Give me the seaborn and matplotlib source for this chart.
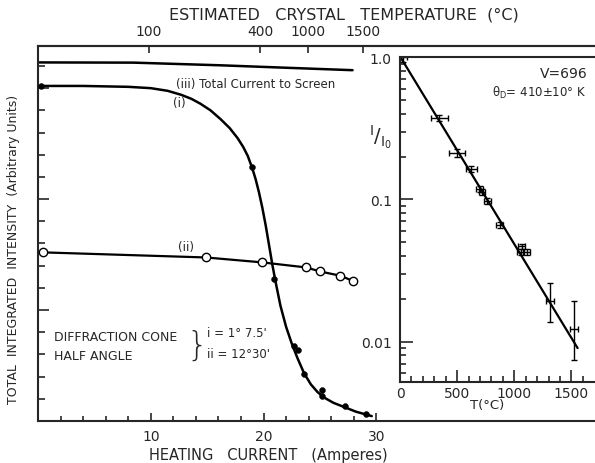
import numpy as np
import matplotlib
matplotlib.use("Agg")
import matplotlib.pyplot as plt
from matplotlib.ticker import FixedLocator, NullFormatter
import seaborn as sns

# main panel: heating current (A) vs integrated intensity (arbitrary units)
curve_i_x = [0.3, 4, 8, 10, 11.5, 12.7, 13.6, 14.4, 15.3, 16.2, 17.0, 17.7, 18.2, 18.6,
             19.0, 19.3, 19.6, 19.9, 20.2, 20.5, 20.8, 21.1, 21.5, 22.0, 22.5, 23.0,
             23.6, 24.2, 24.8, 25.4, 26.2, 27.2, 28.2, 29.6]
curve_i_y = [15.1, 15.1, 15.06, 15.0, 14.88, 14.7, 14.52, 14.3, 14.0, 13.6, 13.2, 12.75, 12.35, 11.95,
             11.4, 10.9, 10.3, 9.6, 8.8, 7.9, 7.0, 6.2, 5.2, 4.25, 3.5, 2.85,
             2.15, 1.65, 1.3, 1.05, 0.82, 0.62, 0.42, 0.22]
dots_i_x = [0.3, 19.0, 20.95, 22.7, 23.1, 23.6, 25.2, 25.2, 27.2, 29.1]
dots_i_y = [15.1, 11.45, 6.4, 3.39, 3.2, 2.12, 1.41, 1.14, 0.66, 0.30]

circ_ii_x = [0.4, 14.9, 19.85, 23.8, 25.0, 26.8, 27.9]
circ_ii_y = [7.6, 7.37, 7.15, 6.92, 6.74, 6.55, 6.32]

curve_iii_x = [0.0, 8.5, 16.2, 22.0, 27.9]
curve_iii_y = [16.16, 16.15, 16.03, 15.92, 15.81]

temp_labels = ["100", "400", "1000", "1500"]
temp_pos = [9.82, 19.73, 23.98, 28.85]   # heating current where each temperature is reached

# inset: Debye-Waller plot
T_pts = [30, 345, 500, 625, 697, 718, 764, 872, 1065, 1055, 1110, 1314, 1526]
I_pts = [1.0, 0.375, 0.213, 0.163, 0.118, 0.113, 0.0976, 0.066, 0.047, 0.043, 0.043, 0.0194, 0.0123]
T_err = [28, 72, 68, 48, 30, 30, 30, 30, 30, 30, 30, 35, 35]
I_lo = [0.92, 0.355, 0.2, 0.155, 0.112, 0.107, 0.093, 0.063, 0.045, 0.041, 0.041, 0.0137, 0.0074]
I_hi = [1.08, 0.395, 0.226, 0.171, 0.124, 0.119, 0.102, 0.069, 0.049, 0.045, 0.045, 0.0259, 0.0193]
fit_T = [5, 1555]
fit_I = [1.0, 0.009]

sns.set_style("ticks")
plt.rcParams['font.family'] = ['DejaVu Sans']
plt.rcParams['mathtext.default'] = 'regular'

fig = plt.figure(figsize=(5.95, 4.64), dpi=100)
W, H = 595, 464
ax = fig.add_axes([38 / W, 1 - 422 / H, 1 - 38 / W, (422 - 47) / H])
ax.set_xlim(0, 49.4)
ax.set_ylim(0, 16.9)
for s in ["left", "bottom", "top"]:
    ax.spines[s].set_linewidth(1.5)
ax.spines["right"].set_visible(False)

sns.lineplot(x=curve_iii_x, y=curve_iii_y, ax=ax, color="black", lw=1.8, estimator=None)
sns.lineplot(x=curve_i_x, y=curve_i_y, ax=ax, color="black", lw=1.8, estimator=None)
sns.lineplot(x=circ_ii_x, y=circ_ii_y, ax=ax, color="black", lw=1.6, estimator=None)
sns.scatterplot(x=dots_i_x, y=dots_i_y, ax=ax, color="black", s=18, edgecolor="black", zorder=5)
sns.scatterplot(x=circ_ii_x, y=circ_ii_y, ax=ax, facecolor="white", edgecolor="black",
                s=36, linewidth=1.0, zorder=5)

ax.set_xticks([10, 20, 30], ["10", "20", "30"])
ax.xaxis.set_minor_locator(FixedLocator(np.arange(2, 30, 2)))
ax.set_yticks([5, 10, 15], ["", "", ""])
ax.yaxis.set_minor_locator(FixedLocator(np.arange(1, 17, 1)))
ax.tick_params(which="both", direction="in", top=False, right=False, labelsize=10, width=1.2)
ax.tick_params(axis="x", which="major", length=6, pad=6)
ax.tick_params(axis="x", which="minor", length=3.5)
ax.tick_params(axis="y", which="major", length=8)
ax.tick_params(axis="y", which="minor", length=5)

top = ax.secondary_xaxis("top")
top.set_xticks(temp_pos, temp_labels)
top.tick_params(direction="in", length=5, width=1.2, labelsize=10, pad=6)
top.spines["top"].set_linewidth(1.5)

ax.text(12.2, 15.2, "(iii) Total Current to Screen", fontsize=8.5, va="center")
ax.text(11.95, 14.37, "(i)", fontsize=8.5, va="center")
ax.text(12.4, 7.88, "(ii)", fontsize=8.5, va="center")
ax.text(1.42, 3.83, "DIFFRACTION CONE", fontsize=9, va="center")
ax.text(1.42, 2.97, "HALF ANGLE", fontsize=9, va="center")
ax.text(14.1, 3.42, "}", fontsize=24, va="center", ha="center", fontweight="light")
ax.text(15.0, 4.0, "i = 1° 7.5'", fontsize=8.5, va="center")
ax.text(14.95, 3.02, "ii = 12°30'", fontsize=8.5, va="center")

fig.text(344 / W, 1 - 15 / H, "ESTIMATED   CRYSTAL   TEMPERATURE  (°C)", ha="center", va="center",
         fontsize=11.5)
fig.text(268 / W, 1 - 456 / H, "HEATING   CURRENT   (Amperes)", ha="center", va="center", fontsize=10.5)
fig.text(14 / W, 1 - 249 / H, "TOTAL  INTEGRATED  INTENSITY  (Arbitrary Units)", ha="center",
         va="center", rotation=90, fontsize=9)

# inset
axi = fig.add_axes([400 / W, 1 - 383 / H, 1 - 400 / W, (383 - 58.3) / H])
axi.set_facecolor("white")
axi.set_yscale("log")
axi.set_xlim(0, 1707)
axi.set_ylim(0.0052, 1.0)
axi.spines["right"].set_visible(False)
for s in ["left", "bottom", "top"]:
    axi.spines[s].set_linewidth(1.5)

sns.lineplot(x=fit_T, y=fit_I, ax=axi, color="black", lw=1.6, estimator=None)
yerr = [np.array(I_pts) - np.array(I_lo), np.array(I_hi) - np.array(I_pts)]
axi.errorbar(T_pts, I_pts, xerr=T_err, yerr=yerr, fmt="none", ecolor="black",
             elinewidth=1.0, capsize=2, capthick=1.0)

axi.set_xticks([0, 500, 1000, 1500], ["0", "500", "1000", "1500"])
axi.xaxis.set_minor_locator(FixedLocator(np.arange(100, 1700, 100)))
axi.set_yticks([1.0, 0.1, 0.01], ["1.0", "0.1", "0.01"])
axi.yaxis.set_minor_formatter(NullFormatter())
axi.tick_params(which="both", direction="in", labelsize=10, width=1.2, top=False, right=False)
axi.tick_params(which="major", length=9, pad=3)
axi.tick_params(which="minor", length=4)
axi.tick_params(axis="y", which="major", pad=6)

axi.text(0.718, 0.952, "V=696", transform=axi.transAxes, fontsize=10, va="center")
axi.text(0.47, 0.893, r"$\theta_D$= 410±10° K", transform=axi.transAxes, fontsize=8.5, va="center")
fig.text(381 / W, 1 - 137 / H, r"$^{I}/_{I_0}$", fontsize=14, ha="center", va="center")
fig.text(487 / W, 1 - 406 / H, "T(°C)", fontsize=9.5, ha="center", va="center")

fig.savefig("out.png", dpi=100)
